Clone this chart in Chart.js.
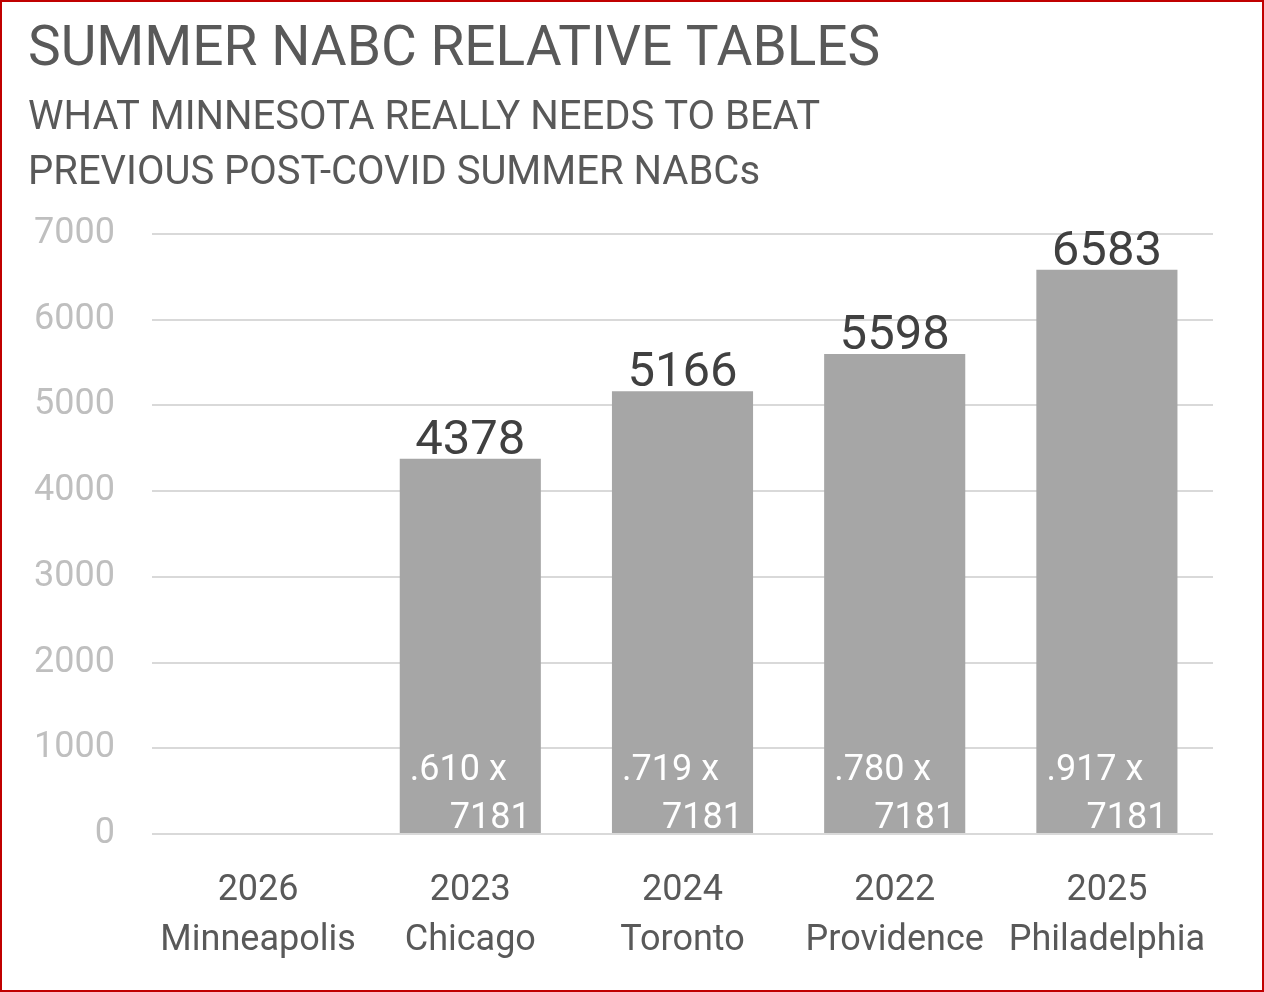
<!DOCTYPE html>
<html>
<head>
<meta charset="utf-8">
<script src="https://cdn.jsdelivr.net/npm/chart.js@4/dist/chart.umd.min.js"></script>
<style>
  html, body { margin: 0; padding: 0; background: #fff; }
  #frame { width: 1264px; height: 992px; box-sizing: border-box; border: 2px solid #c00000; }
  #chart { display: block; }
</style>
</head>
<body>
<div id="frame"><canvas id="chart" width="1260" height="988"></canvas></div>
<script>
// data
var years = ['2026', '2023', '2024', '2022', '2025'];
var cities = ['Minneapolis', 'Chicago', 'Toronto', 'Providence', 'Philadelphia'];
var attendance = [null, 4378, 5166, 5598, 6583];
var ratios = [null, '.610', '.719', '.780', '.917'];
var target = 7181;
var yTicks = [0, 1000, 2000, 3000, 4000, 5000, 6000, 7000];

var FONT = "'Roboto', 'Liberation Sans', sans-serif";

var labels = years.map(function (y, i) { return [y, cities[i]]; });

// value on top of bar + ratio text inside bar
var barText = {
    id: 'barText',
    afterDatasetsDraw: function (chart) {
        var ctx = chart.ctx;
        var meta = chart.getDatasetMeta(0);
        ctx.save();
        meta.data.forEach(function (bar, i) {
            if (attendance[i] == null) return;
            ctx.textAlign = 'center';
            ctx.textBaseline = 'alphabetic';
            ctx.fillStyle = '#404040';
            ctx.font = '49px ' + FONT;
            ctx.fillText(String(attendance[i]), bar.x, bar.y - 5);

            ctx.fillStyle = '#ffffff';
            ctx.font = '36px ' + FONT;
            ctx.fillText(ratios[i] + ' x', bar.x - 12, bar.base - 53);
            ctx.fillText(String(target), bar.x + 20, bar.base - 5);
        });
        ctx.restore();
    }
};

new Chart(document.getElementById('chart').getContext('2d'), {
    type: 'bar',
    data: {
        labels: labels,
        datasets: [{
            data: attendance,
            backgroundColor: '#a6a6a6',
            borderWidth: 0,
            categoryPercentage: 0.665,
            barPercentage: 1
        }]
    },
    options: {
        responsive: false,
        animation: false,
        layout: { padding: { left: 26, right: 49, top: 19, bottom: 0 } },
        plugins: {
            legend: { display: false },
            tooltip: { enabled: false },
            title: {
                display: true,
                text: 'SUMMER NABC RELATIVE TABLES',
                align: 'start',
                color: '#595959',
                font: { family: FONT, size: 55, weight: 'normal', lineHeight: 1.1 },
                padding: { top: 0, bottom: 10 }
            },
            subtitle: {
                display: true,
                text: ['WHAT MINNESOTA REALLY NEEDS TO BEAT', 'PREVIOUS POST-COVID SUMMER NABCs'],
                align: 'start',
                color: '#595959',
                font: { family: FONT, size: 40, weight: 'normal', lineHeight: 1.38 },
                padding: { top: 0, bottom: 32 }
            }
        },
        scales: {
            x: {
                grid: { display: false },
                border: { display: false },
                ticks: {
                    color: '#595959',
                    font: { family: FONT, size: 36, lineHeight: 1.39 },
                    padding: 24,
                    maxRotation: 0,
                    autoSkip: false
                },
                afterFit: function (scale) { scale.height = 156; }
            },
            y: {
                min: 0,
                max: 7000,
                afterBuildTicks: function (scale) {
                    scale.ticks = yTicks.map(function (v) { return { value: v }; });
                },
                grid: { color: '#d9d9d9', lineWidth: 2, drawTicks: false },
                border: { display: false },
                ticks: {
                    color: '#bfbfbf',
                    font: { family: FONT, size: 36 },
                    padding: 37,
                    callback: function (v) { return String(v); }
                },
                afterFit: function (scale) { scale.width = 124; }
            }
        }
    },
    plugins: [barText]
});
</script>
</body>
</html>
